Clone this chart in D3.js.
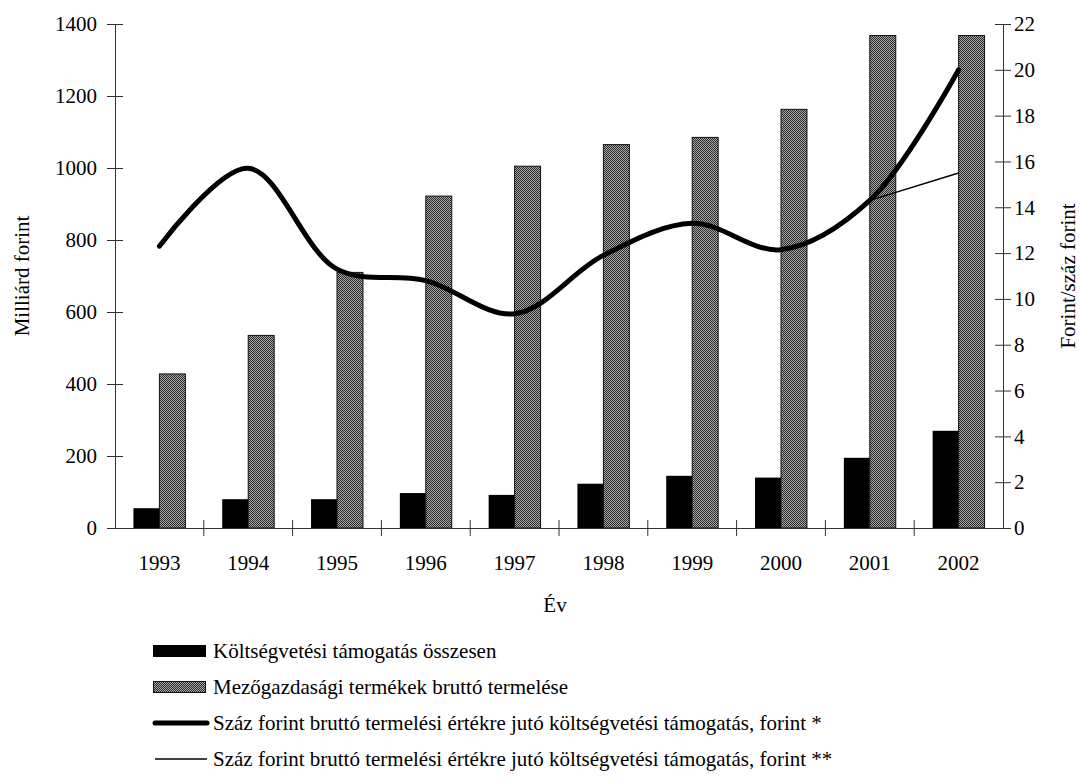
<!DOCTYPE html>
<html>
<head>
<meta charset="utf-8">
<script src="https://cdn.jsdelivr.net/npm/d3@7"></script>
<style>
  body { margin: 0; background: #fff; }
  svg text { font-family: "Liberation Serif", "Times New Roman", serif; fill: #000; }
</style>
</head>
<body>
<div id="chart"></div>
<script>
// data
var years = ["1993", "1994", "1995", "1996", "1997", "1998", "1999", "2000", "2001", "2002"];
var tamogatas = [55, 80, 80, 97, 92, 123, 145, 140, 195, 270];          // Milliárd forint
var termeles = [428, 535, 710, 922, 1005, 1065, 1085, 1163, 1368, 1368]; // Milliárd forint
var jutoA = [12.3, 15.7, 11.3, 10.8, 9.35, 11.9, 13.3, 12.15, 14.3, 20.0]; // forint/száz forint
var jutoB = [null, null, null, null, null, null, null, null, 14.3, 15.5];
var leftTicks = [0, 200, 400, 600, 800, 1000, 1200, 1400];
var rightTicks = [0, 2, 4, 6, 8, 10, 12, 14, 16, 18, 20, 22];
var legendLabels = [
  "Költségvetési támogatás összesen",
  "Mezőgazdasági termékek bruttó termelése",
  "Száz forint bruttó termelési értékre jutó költségvetési támogatás, forint *",
  "Száz forint bruttó termelési értékre jutó költségvetési támogatás, forint **"
];

var W = 1080, H = 783;
var plot = {left: 115, right: 1003, top: 24, bottom: 528};
var fs = 21;

var svg = d3.select("#chart").append("svg")
    .attr("width", W)
    .attr("height", H);

// dotted grey fill like the original
var defs = svg.append("defs");
var pat = defs.append("pattern")
    .attr("id", "dots")
    .attr("width", 2).attr("height", 2)
    .attr("patternUnits", "userSpaceOnUse");
pat.append("rect").attr("width", 2).attr("height", 2).attr("fill", "#a8a8a8");
pat.append("rect").attr("width", 1).attr("height", 1).attr("fill", "#2a2a2a");
pat.append("rect").attr("x", 1).attr("y", 1).attr("width", 1).attr("height", 1).attr("fill", "#2a2a2a");

var x = d3.scaleBand().domain(years).range([plot.left, plot.right]);
var x1 = d3.scaleBand().domain(["t", "m"]).range([0, x.bandwidth()]).paddingOuter(0.71);
var yL = d3.scaleLinear().domain([0, 1400]).range([plot.bottom, plot.top]);
var yR = d3.scaleLinear().domain([0, 22]).range([plot.bottom, plot.top]);

// bars
svg.append("g").selectAll("rect")
    .data(years)
  .enter().append("rect")
    .attr("x", function(d) { return x(d) + x1("t"); })
    .attr("y", function(d, i) { return yL(tamogatas[i]); })
    .attr("width", x1.bandwidth())
    .attr("height", function(d, i) { return yL(0) - yL(tamogatas[i]); })
    .attr("fill", "#000");

svg.append("g").selectAll("rect")
    .data(years)
  .enter().append("rect")
    .attr("x", function(d) { return x(d) + x1("m"); })
    .attr("y", function(d, i) { return yL(termeles[i]); })
    .attr("width", x1.bandwidth())
    .attr("height", function(d, i) { return yL(0) - yL(termeles[i]); })
    .attr("fill", "url(#dots)")
    .attr("stroke", "#111")
    .attr("stroke-width", 1);

// axes
var leftAxis = svg.append("g")
    .attr("transform", "translate(" + plot.left + ",0)")
    .call(d3.axisLeft(yL).tickValues(leftTicks).tickFormat(d3.format("d"))
      .tickSizeOuter(0).tickSizeInner(8).tickPadding(10));
leftAxis.selectAll(".tick line").attr("x2", 8).attr("x1", -8);

var rightAxis = svg.append("g")
    .attr("transform", "translate(" + plot.right + ",0)")
    .call(d3.axisRight(yR).tickValues(rightTicks).tickFormat(d3.format("d"))
      .tickSizeOuter(0).tickSizeInner(8).tickPadding(3));
rightAxis.selectAll(".tick line").attr("x1", -8).attr("x2", 8);

var bottomAxis = svg.append("g")
    .attr("transform", "translate(0," + plot.bottom + ")")
    .call(d3.axisBottom(x).tickSize(0).tickSizeOuter(0).tickPadding(27));

// tick marks between the categories
var bounds = years.slice(1).map(function(d) { return x(d); });
bottomAxis.selectAll(".bound")
    .data(bounds)
  .enter().append("line")
    .attr("class", "bound")
    .attr("x1", function(d) { return d; })
    .attr("x2", function(d) { return d; })
    .attr("y1", -8).attr("y2", 8)
    .attr("stroke", "#333");

svg.selectAll(".domain").attr("stroke", "#333");
svg.selectAll(".tick line").attr("stroke", "#333");
svg.selectAll(".tick text").attr("font-size", fs).attr("fill", "#000")
    .style("font-family", "'Liberation Serif', serif");

// lines
var lineA = d3.line()
    .defined(function(d) { return d != null; })
    .x(function(d, i) { return x(years[i]) + x.bandwidth() / 2; })
    .y(function(d) { return yR(d); })
    .curve(d3.curveCatmullRom.alpha(0.5));

svg.append("path")
    .datum(jutoA)
    .attr("fill", "none")
    .attr("stroke", "#000")
    .attr("stroke-width", 5)
    .attr("stroke-linejoin", "round")
    .attr("stroke-linecap", "round")
    .attr("d", lineA);

svg.append("path")
    .datum(jutoB)
    .attr("fill", "none")
    .attr("stroke", "#000")
    .attr("stroke-width", 1.5)
    .attr("d", lineA.curve(d3.curveLinear));

// axis titles
svg.append("text")
    .attr("transform", "translate(22," + (plot.top + plot.bottom) / 2 + ") rotate(-90)")
    .attr("text-anchor", "middle")
    .attr("dy", "0.35em")
    .attr("font-size", fs)
    .text("Milliárd forint");

svg.append("text")
    .attr("transform", "translate(1068," + (plot.top + plot.bottom) / 2 + ") rotate(-90)")
    .attr("text-anchor", "middle")
    .attr("dy", "0.35em")
    .attr("font-size", fs)
    .text("Forint/száz forint");

svg.append("text")
    .attr("x", 555)
    .attr("y", 612)
    .attr("text-anchor", "middle")
    .attr("font-size", fs)
    .text("Év");

// legend
var legend = svg.append("g");
var rowY = [651, 687, 723, 759];
legendLabels.forEach(function(label, i) {
  var g = legend.append("g").attr("transform", "translate(0," + rowY[i] + ")");
  if (i === 0) {
    g.append("rect").attr("x", 153).attr("y", -6).attr("width", 53).attr("height", 12).attr("fill", "#000");
  } else if (i === 1) {
    g.append("rect").attr("x", 153.5).attr("y", -5.5).attr("width", 52).attr("height", 11)
        .attr("fill", "url(#dots)").attr("stroke", "#111");
  } else {
    g.append("line").attr("x1", 155).attr("x2", 207)
        .attr("stroke", "#000")
        .attr("stroke-width", i === 2 ? 5 : 1.5)
        .attr("stroke-linecap", i === 2 ? "round" : "butt");
  }
  g.append("text")
      .attr("x", 213)
      .attr("dy", "0.35em")
      .attr("font-size", fs)
      .text(label);
});
</script>
</body>
</html>
